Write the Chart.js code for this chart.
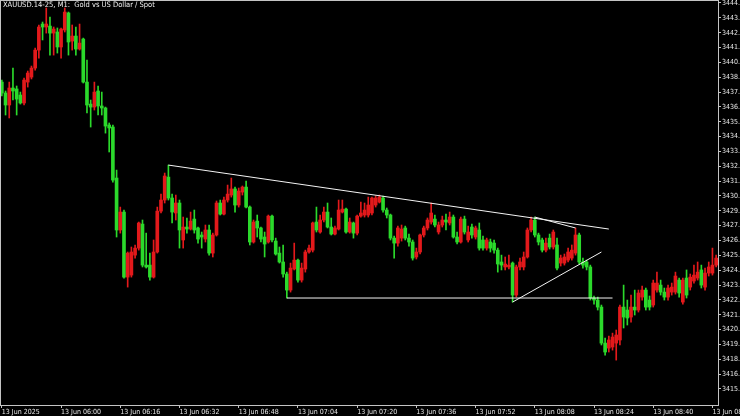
<!DOCTYPE html>
<html>
<head>
<meta charset="utf-8">
<script src="https://cdn.jsdelivr.net/npm/chart.js@4.4.1/dist/chart.umd.min.js"></script>
<style>
  html, body { margin: 0; padding: 0; background: #000; overflow: hidden; }
  #wrap { position: relative; width: 740px; height: 416px; }
  #title {
    position: absolute; left: 3px; top: 0px;
    font: 7.5px 'Liberation Sans Narrow', 'DejaVu Sans Condensed', 'Liberation Sans', sans-serif;
    color: #f0f0f0; white-space: pre;
  }
</style>
</head>
<body>
<div id="wrap">
  <canvas id="chart" width="740" height="416"></canvas>
  <div id="title">XAUUSD.14-25, M1:  Gold vs US Dollar / Spot</div>
</div>
<script>
// one-minute candles from 13 Jun 05:44 onwards
const opens = [
  3438.56, 3437.75, 3436.86, 3438.12, 3438.05, 3437.60, 3437.01, 3438.56, 3438.93, 3439.60,
  3440.93, 3442.86, 3442.64, 3442.71, 3442.19, 3442.27, 3441.16, 3442.42, 3443.68, 3441.60,
  3441.97, 3441.01, 3441.75, 3438.56, 3436.93, 3436.71, 3437.90, 3436.79, 3436.64, 3435.38,
  3435.23, 3431.45, 3427.60, 3428.93, 3424.11, 3424.26, 3425.74, 3426.26, 3428.04, 3425.00,
  3425.00, 3424.11, 3425.97, 3429.00, 3429.82, 3431.52, 3429.97, 3428.86, 3429.60, 3426.86,
  3427.82, 3427.67, 3428.41, 3427.75, 3427.23, 3426.93, 3427.60, 3425.89, 3427.23, 3429.60,
  3428.78, 3429.82, 3430.19, 3430.64, 3429.45, 3430.41, 3430.78, 3429.30, 3426.71, 3428.26,
  3427.75, 3427.08, 3426.71, 3428.63, 3426.78, 3425.89, 3425.23, 3424.34, 3423.15, 3424.71,
  3425.37, 3423.89, 3424.71, 3425.97, 3426.11, 3428.19, 3427.45, 3428.34, 3428.93, 3427.82,
  3427.30, 3427.67, 3428.93, 3429.15, 3427.45, 3428.12, 3427.37, 3428.63, 3428.71, 3428.71,
  3428.86, 3429.45, 3429.67, 3429.97, 3429.08, 3428.71, 3427.00, 3426.63, 3427.00, 3427.75,
  3427.00, 3426.71, 3425.60, 3425.97, 3427.23, 3427.75, 3428.19, 3428.41, 3427.45, 3427.97,
  3428.34, 3428.12, 3428.56, 3427.08, 3426.71, 3428.41, 3426.86, 3427.82, 3427.08, 3427.60,
  3426.86, 3426.26, 3426.71, 3426.63, 3426.11, 3425.23, 3424.86, 3424.86, 3425.15, 3422.78,
  3424.86, 3424.86, 3425.60, 3427.60, 3428.34, 3427.23, 3426.86, 3426.11, 3427.00, 3426.34,
  3426.49, 3425.15, 3425.15, 3425.37, 3425.52, 3425.89, 3427.23, 3425.23, 3425.23, 3424.86,
  3422.56, 3422.41, 3421.89, 3419.22, 3418.85, 3418.93, 3419.22, 3419.45, 3421.89, 3421.67,
  3421.15, 3421.89, 3421.67, 3422.63, 3423.15, 3422.41, 3422.04, 3423.15, 3423.52, 3423.00,
  3422.63, 3423.00, 3423.00, 3423.89, 3422.26, 3424.04, 3423.37, 3423.82, 3424.04, 3424.64,
  3423.37, 3424.41, 3424.41, 3425.00
];
const highs = [
  3438.71, 3437.90, 3438.56, 3439.60, 3438.27, 3437.82, 3438.86, 3439.38, 3439.75, 3441.08,
  3442.79, 3443.01, 3444.05, 3443.38, 3442.64, 3442.57, 3442.57, 3444.05, 3443.75, 3442.79,
  3442.64, 3442.86, 3441.82, 3440.19, 3437.23, 3438.56, 3438.27, 3437.82, 3436.71, 3435.53,
  3435.38, 3432.04, 3429.30, 3429.08, 3425.97, 3426.34, 3426.49, 3428.19, 3428.34, 3427.37,
  3425.89, 3426.86, 3429.30, 3430.26, 3431.82, 3432.41, 3430.26, 3430.19, 3429.82, 3428.56,
  3428.49, 3428.93, 3429.08, 3427.82, 3427.45, 3427.97, 3427.97, 3427.37, 3429.75, 3429.82,
  3430.04, 3430.93, 3431.45, 3430.78, 3430.71, 3430.86, 3431.23, 3429.38, 3428.34, 3428.71,
  3427.82, 3427.45, 3428.71, 3428.71, 3427.00, 3426.34, 3426.49, 3424.48, 3425.15, 3426.63,
  3425.45, 3425.15, 3426.11, 3426.49, 3428.19, 3429.30, 3428.71, 3429.30, 3429.60, 3428.49,
  3427.89, 3429.82, 3429.82, 3429.23, 3428.49, 3428.19, 3428.71, 3429.67, 3429.60, 3430.04,
  3430.04, 3430.12, 3430.19, 3430.12, 3429.23, 3428.78, 3427.15, 3427.89, 3427.97, 3427.89,
  3427.30, 3426.86, 3426.26, 3427.30, 3427.89, 3428.49, 3429.60, 3428.71, 3428.19, 3428.63,
  3428.78, 3428.93, 3428.71, 3427.45, 3428.56, 3428.63, 3427.89, 3428.04, 3427.89, 3428.12,
  3427.15, 3427.00, 3426.93, 3426.86, 3426.26, 3425.74, 3425.60, 3425.74, 3425.23, 3425.00,
  3425.52, 3425.97, 3427.75, 3428.56, 3428.56, 3427.37, 3427.00, 3427.00, 3427.30, 3427.60,
  3427.00, 3425.74, 3425.82, 3426.26, 3426.49, 3427.75, 3427.37, 3425.52, 3425.37, 3425.00,
  3422.71, 3422.63, 3422.04, 3419.59, 3419.74, 3419.96, 3420.19, 3422.04, 3423.52, 3422.41,
  3422.78, 3423.15, 3423.15, 3423.45, 3423.30, 3422.71, 3423.89, 3424.48, 3423.89, 3423.30,
  3423.52, 3423.67, 3424.48, 3424.04, 3424.04, 3424.64, 3424.34, 3425.00, 3425.23, 3425.00,
  3424.78, 3425.23, 3426.26, 3425.74
];
const lows = [
  3437.53, 3436.12, 3435.90, 3437.23, 3436.12, 3436.93, 3436.86, 3438.19, 3438.79, 3439.45,
  3440.34, 3441.68, 3442.19, 3440.56, 3440.56, 3440.71, 3440.34, 3442.27, 3440.56, 3440.93,
  3440.56, 3440.93, 3438.49, 3436.27, 3435.23, 3436.49, 3436.12, 3436.12, 3434.78, 3433.38,
  3431.15, 3427.08, 3427.37, 3424.04, 3423.37, 3424.11, 3425.52, 3426.11, 3424.86, 3424.78,
  3423.89, 3424.04, 3425.89, 3428.86, 3429.60, 3429.82, 3428.12, 3428.34, 3426.26, 3426.26,
  3427.37, 3427.60, 3427.37, 3426.63, 3426.26, 3426.71, 3425.74, 3425.60, 3427.15, 3428.71,
  3428.71, 3429.67, 3430.04, 3428.93, 3429.30, 3430.19, 3429.23, 3426.49, 3426.63, 3427.08,
  3426.71, 3425.60, 3426.63, 3426.71, 3425.74, 3425.15, 3424.11, 3422.56, 3423.00, 3424.64,
  3423.74, 3423.74, 3424.48, 3425.89, 3425.97, 3427.45, 3427.37, 3428.19, 3427.75, 3427.23,
  3427.23, 3427.60, 3428.86, 3427.37, 3427.37, 3427.00, 3427.23, 3428.56, 3428.56, 3428.56,
  3428.71, 3429.30, 3429.60, 3428.93, 3428.49, 3426.86, 3425.52, 3426.41, 3426.78, 3426.86,
  3426.41, 3425.37, 3425.45, 3425.82, 3427.08, 3427.60, 3428.04, 3427.82, 3427.30, 3427.82,
  3427.60, 3427.97, 3427.00, 3426.56, 3426.63, 3427.30, 3426.71, 3427.00, 3426.93, 3426.11,
  3426.11, 3426.11, 3425.97, 3425.89, 3424.48, 3424.64, 3424.64, 3424.71, 3422.26, 3422.63,
  3424.64, 3424.64, 3425.52, 3427.45, 3427.08, 3426.49, 3425.97, 3425.97, 3426.19, 3426.19,
  3424.64, 3424.93, 3425.00, 3425.23, 3425.37, 3425.74, 3425.08, 3424.78, 3424.64, 3422.41,
  3422.11, 3421.67, 3419.08, 3418.33, 3418.56, 3418.70, 3417.96, 3419.08, 3420.34, 3420.56,
  3420.78, 3421.30, 3421.52, 3422.41, 3421.67, 3421.67, 3421.89, 3423.00, 3422.78, 3422.41,
  3422.41, 3422.78, 3422.85, 3422.63, 3422.11, 3422.56, 3423.15, 3423.67, 3423.89, 3423.30,
  3423.15, 3424.19, 3424.26, 3424.86
];
const closes = [
  3437.75, 3436.86, 3438.12, 3437.90, 3437.30, 3437.01, 3438.71, 3439.23, 3439.60, 3440.93,
  3442.64, 3442.64, 3442.86, 3442.19, 3442.49, 3441.16, 3442.49, 3443.75, 3441.53, 3441.97,
  3441.01, 3441.45, 3438.56, 3436.86, 3436.71, 3437.82, 3436.79, 3436.64, 3435.30, 3435.16,
  3431.30, 3427.60, 3428.93, 3424.11, 3425.89, 3425.97, 3426.26, 3428.12, 3425.00, 3424.86,
  3424.11, 3425.97, 3429.00, 3429.82, 3431.60, 3429.97, 3428.93, 3429.60, 3427.60, 3427.82,
  3427.67, 3428.26, 3427.60, 3426.93, 3427.08, 3427.60, 3425.89, 3427.23, 3429.60, 3428.78,
  3429.82, 3430.26, 3430.64, 3429.45, 3430.49, 3430.78, 3429.30, 3426.71, 3428.19, 3427.75,
  3426.93, 3426.56, 3428.63, 3426.86, 3425.82, 3425.23, 3424.34, 3423.15, 3424.78, 3425.37,
  3423.89, 3424.78, 3425.97, 3426.26, 3428.12, 3427.60, 3428.34, 3428.93, 3427.82, 3427.30,
  3427.75, 3429.08, 3429.15, 3427.45, 3428.19, 3427.37, 3428.63, 3428.86, 3429.08, 3429.45,
  3429.97, 3429.97, 3430.04, 3429.08, 3428.71, 3427.00, 3426.63, 3427.75, 3427.67, 3427.00,
  3426.71, 3425.52, 3425.97, 3427.23, 3427.75, 3428.34, 3428.86, 3427.97, 3427.97, 3428.34,
  3428.19, 3428.56, 3427.08, 3426.71, 3428.41, 3427.45, 3427.45, 3427.23, 3427.75, 3426.26,
  3426.26, 3426.86, 3426.26, 3426.11, 3425.08, 3425.00, 3425.08, 3425.00, 3422.78, 3424.86,
  3425.23, 3425.60, 3427.60, 3428.34, 3427.23, 3426.71, 3426.11, 3426.63, 3426.34, 3427.45,
  3424.78, 3425.52, 3425.60, 3425.97, 3426.11, 3427.23, 3425.23, 3425.00, 3424.86, 3422.56,
  3422.41, 3421.89, 3419.22, 3418.56, 3419.45, 3419.67, 3419.82, 3421.89, 3421.15, 3421.08,
  3421.89, 3421.67, 3422.93, 3423.15, 3421.89, 3421.89, 3423.67, 3423.67, 3423.00, 3422.63,
  3423.30, 3423.37, 3424.19, 3422.93, 3423.89, 3422.78, 3424.11, 3424.26, 3424.48, 3423.52,
  3424.41, 3424.86, 3425.00, 3425.52
];

// hand drawn trend lines: [candle index, price] end points
const trendLines = [
  [[45, 3432.41], [164, 3427.67]],
  [[77, 3422.56], [165, 3422.56]],
  [[138, 3422.26], [162, 3425.97]],
  [[144, 3428.56], [155, 3427.75]],
];

const priceTicks = [
  3415.82, 3416.92, 3418.02, 3419.12, 3420.22, 3421.32, 3422.42, 3423.52, 3424.62,
  3425.72, 3426.82, 3427.92, 3429.02, 3430.12, 3431.22, 3432.32, 3433.42, 3434.52,
  3435.62, 3436.72, 3437.82, 3438.92, 3440.02, 3441.12, 3442.22, 3443.32, 3444.42,
];
const timeTickIdx = [0, 16, 32, 48, 64, 80, 96, 112, 128, 144, 160, 176, 192];
const timeLabels = [
  '13 Jun 2025', '13 Jun 06:00', '13 Jun 06:16', '13 Jun 06:32', '13 Jun 06:48',
  '13 Jun 07:04', '13 Jun 07:20', '13 Jun 07:36', '13 Jun 07:52', '13 Jun 08:08',
  '13 Jun 08:24', '13 Jun 08:40', '13 Jun 08:56',
];

const upColor = '#e3191b';
const downColor = '#2bd92b';
const axisColor = '#c4c4c4';
const labelFont = { family: "'Liberation Sans Narrow', 'DejaVu Sans Condensed', 'Liberation Sans', sans-serif", size: 7 };

const candleColors = opens.map((o, i) => (closes[i] >= o ? upColor : downColor));
const wickData = highs.map((h, i) => ({ x: i, y: [lows[i], h] }));
const bodyData = opens.map((o, i) => ({ x: i, y: [o, closes[i]] }));

const lineSets = trendLines.map((pts) => ({
  type: 'line',
  data: pts.map((p) => ({ x: p[0], y: p[1] })),
  borderColor: '#f4f4f4',
  borderWidth: 1,
  pointRadius: 0,
  order: 0,
}));

const frame = {
  id: 'frame',
  afterDraw(chart) {
    const { ctx, chartArea: a } = chart;
    ctx.save();
    ctx.strokeStyle = axisColor;
    ctx.lineWidth = 1;
    ctx.strokeRect(a.left + 0.5, a.top + 0.5, a.right - a.left, a.bottom - a.top);
    ctx.restore();
  },
};

new Chart(document.getElementById('chart'), {
  type: 'bar',
  data: {
    datasets: [
      {
        data: wickData,
        backgroundColor: candleColors,
        barThickness: 1,
        grouped: false,
        order: 2,
      },
      {
        data: bodyData,
        backgroundColor: candleColors,
        barThickness: 3,
        minBarLength: 1,
        grouped: false,
        order: 1,
      },
      ...lineSets,
    ],
  },
  options: {
    responsive: false,
    animation: false,
    devicePixelRatio: 1,
    layout: { padding: 0 },
    plugins: { legend: { display: false }, tooltip: { enabled: false } },
    scales: {
      x: {
        type: 'linear',
        position: 'bottom',
        min: -0.5,
        max: 193.5,
        offset: false,
        afterBuildTicks: (s) => { s.ticks = timeTickIdx.map((v) => ({ value: v })); },
        afterFit: (s) => { s.height = 11; s.paddingLeft = 0; s.paddingRight = 0; },
        grid: { offset: false, drawOnChartArea: false, color: axisColor, tickLength: 3 },
        border: { display: false },
        ticks: {
          callback: (v, i) => timeLabels[i],
          align: 'start',
          autoSkip: false,
          maxRotation: 0,
          padding: 0,
          color: '#e6e6e6',
          font: labelFont,
        },
      },
      y: {
        position: 'right',
        min: 3414.634,
        max: 3444.642,
        afterBuildTicks: (s) => { s.ticks = priceTicks.map((v) => ({ value: v })); },
        afterFit: (s) => { s.width = 22; s.paddingTop = 0; s.paddingBottom = 0; },
        grid: { drawOnChartArea: false, color: axisColor, tickLength: 3 },
        border: { display: false },
        ticks: {
          callback: (v) => v.toFixed(2),
          padding: 1,
          color: '#e6e6e6',
          font: labelFont,
        },
      },
    },
  },
  plugins: [frame],
});
</script>
</body>
</html>
